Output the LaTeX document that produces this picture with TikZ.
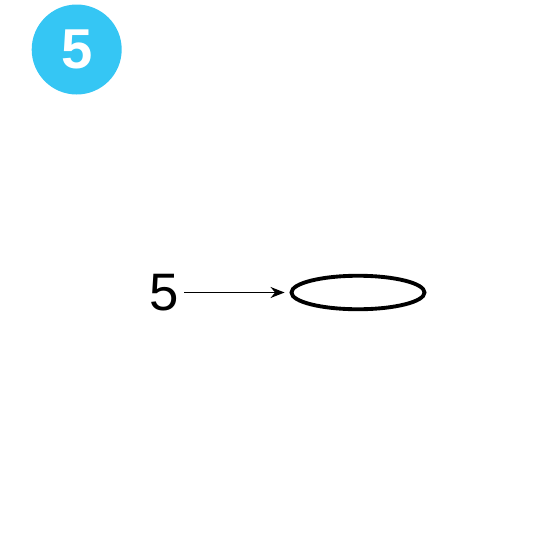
\documentclass[tikz,border=0pt]{standalone}
\usepackage{fontspec}
\setmainfont{Liberation Sans}
\usepackage{xcolor}
\usetikzlibrary{arrows, arrows.meta, shapes.geometric}
\definecolor{badgeblue}{HTML}{35C6F4}

\begin{document}
\begin{tikzpicture}
	\useasboundingbox (0,0) rectangle (5.5,5.5);
	\node[circle, fill=badgeblue, minimum size=0.9cm, inner sep=0pt, text=white, font=\bfseries\fontsize{16}{16}\selectfont](badge) at (0.767,5.005){5};
	\node[inner sep=0pt, font=\fontsize{15}{15}\selectfont](lab) at (1.64,2.575){5};
	\node[ellipse, draw=black, line width=1.1pt, minimum width=1.33cm, minimum height=0.335cm, inner sep=0pt](ring) at (3.58,2.575){};
	\draw[line width=0.5pt, -{Stealth[length=1.4mm, width=1.1mm]}, shorten <=0.5mm, shorten >=0.5mm](lab.east) -- (ring.west);
\end{tikzpicture}
\end{document}
